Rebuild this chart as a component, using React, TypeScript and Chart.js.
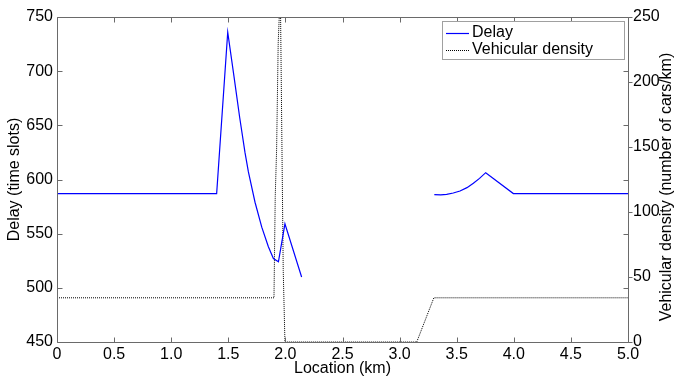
import React, { useEffect, useRef } from 'react';
import { Chart, registerables } from 'chart.js';

Chart.register(...registerables);

// ---- Data ----
const delayX = [0, 1.398, 1.495, 1.55, 1.60, 1.646, 1.676, 1.734, 1.793, 1.851, 1.895, 1.939, 1.996, 2.142, 2.7, 3.304, 3.36, 3.412, 3.47, 3.529, 3.59, 3.646, 3.70, 3.754, 3.996, 5];
const delayY: (number | null)[] = [587, 587, 736, 695, 657, 625, 607, 579, 556, 538, 527, 524, 559, 510, null, 586, 585.8, 586.3, 587.5, 589.4, 592.5, 596.5, 601, 606.3, 587, 587];

const densityX = [0, 1.900, 1.911, 1.923, 1.937, 1.946, 1.952, 1.958, 1.970, 1.981, 1.996, 3.15, 3.30, 5];
const densityY = [34, 34, 112, 148, 230, 250, 262, 250, 148, 55, 0, 0, 34, 34];

const xTickStep = 0.5;
const delayTickStep = 50;
const densityTickStep = 50;

const xTitle = 'Location (km)';
const leftTitle = 'Delay (time slots)';
const rightTitle = 'Vehicular density (number of cars/km)';
const legendLabels = ['Delay', 'Vehicular density'];

const FONT = '"Liberation Sans", Arial, sans-serif';

const framePlugin = {
  id: 'frame',
  afterDatasetsDraw(chart: any) {
    const { ctx, chartArea, scales } = chart;
    const L = Math.floor(chartArea.left) + 0.5;
    const R = Math.floor(chartArea.right) + 0.5;
    const T = Math.floor(chartArea.top) + 0.5;
    const B = Math.floor(chartArea.bottom) + 0.5;
    ctx.save();
    ctx.strokeStyle = '#6a6a6a';
    ctx.lineWidth = 1;
    ctx.beginPath();
    ctx.rect(L, T, R - L, B - T);
    ctx.stroke();
    const tl = 5;
    ctx.beginPath();
    for (let v = 0; v <= 5 + 1e-9; v += xTickStep) {
      const px = Math.round(scales.x.getPixelForValue(v)) + 0.5;
      ctx.moveTo(px, B); ctx.lineTo(px, B - tl);
      ctx.moveTo(px, T); ctx.lineTo(px, T + tl);
    }
    for (let v = 450; v <= 750 + 1e-9; v += delayTickStep) {
      const py = Math.round(scales.y.getPixelForValue(v)) + 0.5;
      ctx.moveTo(L, py); ctx.lineTo(L + tl, py);
      ctx.moveTo(R, py); ctx.lineTo(R - tl, py);
    }
    for (let v = 0; v <= 250 + 1e-9; v += densityTickStep) {
      const py = Math.round(scales.y1.getPixelForValue(v)) + 0.5;
      ctx.moveTo(R, py); ctx.lineTo(R + 4, py);
    }
    ctx.stroke();
    ctx.restore();
  },
  afterDraw(chart: any) {
    const { ctx } = chart;
    ctx.save();
    ctx.fillStyle = '#000';
    ctx.font = `16px ${FONT}`;
    ctx.textAlign = 'center';
    ctx.textBaseline = 'middle';
    ctx.translate(667, 187);
    ctx.rotate(-Math.PI / 2);
    ctx.fillText(rightTitle, 0, 0);
    ctx.restore();

    ctx.save();
    const bx = 442.5, by = 21.5, bw = 182, bh = 38;
    ctx.fillStyle = '#fff';
    ctx.fillRect(bx, by, bw, bh);
    ctx.strokeStyle = '#a0a0a0';
    ctx.lineWidth = 1;
    ctx.strokeRect(bx, by, bw, bh);
    const rows = [33, 50];
    ctx.strokeStyle = '#0000ff';
    ctx.lineWidth = 1.2;
    ctx.beginPath();
    ctx.moveTo(446, rows[0] + 0.5); ctx.lineTo(469, rows[0] + 0.5);
    ctx.stroke();
    ctx.strokeStyle = '#000';
    ctx.lineWidth = 1;
    ctx.setLineDash([1, 1]);
    ctx.beginPath();
    ctx.moveTo(446, rows[1] + 0.5); ctx.lineTo(469, rows[1] + 0.5);
    ctx.stroke();
    ctx.setLineDash([]);
    ctx.fillStyle = '#000';
    ctx.font = `16px ${FONT}`;
    ctx.textAlign = 'left';
    ctx.textBaseline = 'middle';
    ctx.fillText(legendLabels[0], 472, rows[0]);
    ctx.fillText(legendLabels[1], 472, rows[1]);
    ctx.restore();
  },
};

export default function App() {
  const ref = useRef<HTMLCanvasElement>(null);
  useEffect(() => {
    if (!ref.current) return;
    const tickFont = { family: FONT, size: 16 };
    const chart = new Chart(ref.current, {
      type: 'line',
      data: {
        datasets: [
          {
            label: legendLabels[0],
            data: delayX.map((x, i) => ({ x, y: delayY[i] })) as any,
            yAxisID: 'y',
            borderColor: '#0000ff',
            borderWidth: 1.2,
            pointRadius: 0,
            tension: 0,
            spanGaps: false,
            fill: false,
          },
          {
            label: legendLabels[1],
            data: densityX.map((x, i) => ({ x, y: densityY[i] })),
            yAxisID: 'y1',
            borderColor: '#000000',
            borderWidth: 1,
            borderDash: [1, 1],
            pointRadius: 0,
            tension: 0,
            fill: false,
          },
        ],
      },
      options: {
        responsive: false,
        animation: false,
        layout: { padding: { top: 17, left: 0, right: 0, bottom: 0 } },
        plugins: { legend: { display: false }, tooltip: { enabled: false } },
        scales: {
          x: {
            type: 'linear',
            min: 0,
            max: 5,
            ticks: { stepSize: xTickStep, font: tickFont, color: '#000', padding: 3, maxRotation: 0, autoSkip: false },
            grid: { display: false, drawTicks: false },
            border: { display: false },
            title: { display: true, text: xTitle, color: '#000', font: { family: FONT, size: 16, lineHeight: 1 }, padding: { top: 0, bottom: 0 } },
            afterFit: (s: any) => { s.height = 35; },
          },
          y: {
            type: 'linear',
            position: 'left',
            min: 450,
            max: 750,
            ticks: { stepSize: delayTickStep, font: tickFont, color: '#000', padding: 4 },
            grid: { display: false, drawTicks: false },
            border: { display: false },
            title: { display: true, text: leftTitle, color: '#000', font: { family: FONT, size: 16, lineHeight: 1 }, padding: { top: 7, bottom: 0 } },
            afterFit: (s: any) => { s.width = 57; },
          },
          y1: {
            type: 'linear',
            position: 'right',
            min: 0,
            max: 250,
            ticks: { stepSize: densityTickStep, font: tickFont, color: '#000', padding: 5 },
            grid: { display: false, drawTicks: false },
            border: { display: false },
            afterFit: (s: any) => { s.width = 47; },
          },
        },
      } as any,
      plugins: [framePlugin],
    });
    return () => chart.destroy();
  }, []);
  return (
    <div style={{ position: 'absolute', left: 0, top: 0, width: 675, height: 377, background: '#fff' }}>
      <canvas ref={ref} width={675} height={377} style={{ display: 'block' }} />
    </div>
  );
}
